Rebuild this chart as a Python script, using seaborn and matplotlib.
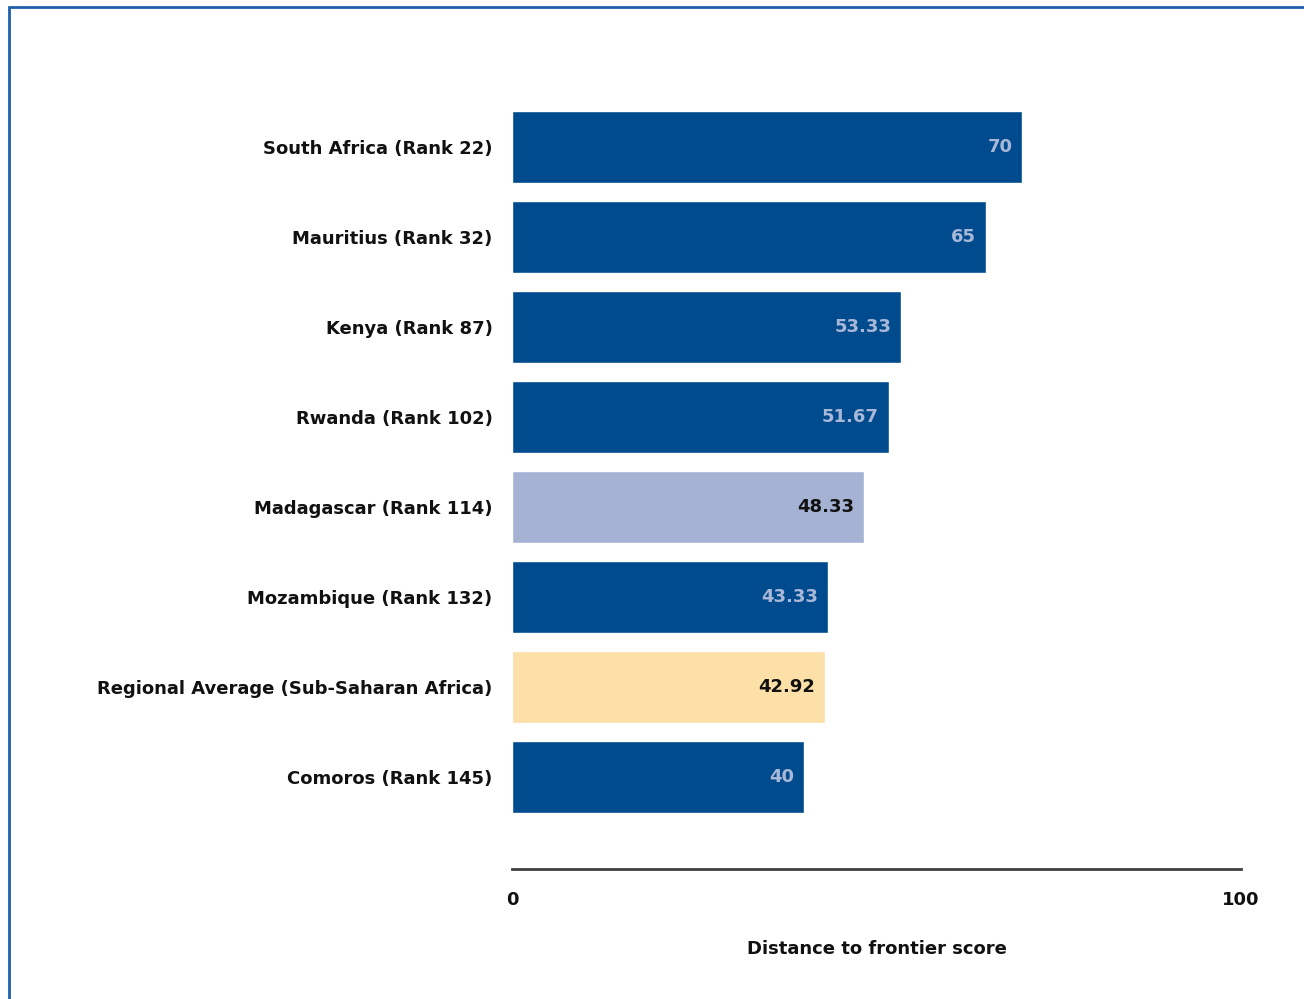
import matplotlib.pyplot as plt
import matplotlib.patches as mpatches
import seaborn as sns
import pandas as pd

# datos
paises = ['South Africa (Rank 22)', 'Mauritius (Rank 32)', 'Kenya (Rank 87)',
          'Rwanda (Rank 102)', 'Madagascar (Rank 114)', 'Mozambique (Rank 132)',
          'Regional Average (Sub-Saharan Africa)', 'Comoros (Rank 145)']
puntaje = [70, 65, 53.33, 51.67, 48.33, 43.33, 42.92, 40]
etiquetas = ['70', '65', '53.33', '51.67', '48.33', '43.33', '42.92', '40']
colores = ['#004B8D', '#004B8D', '#004B8D', '#004B8D', '#A5B2D3', '#004B8D', '#FDDFA8', '#004B8D']
color_texto = ['#A9B8D8', '#A9B8D8', '#A9B8D8', '#A9B8D8', '#111111', '#A9B8D8', '#111111', '#A9B8D8']

datos = pd.DataFrame({'pais': paises, 'score': puntaje})

sns.set_style('white')
plt.rcParams['font.family'] = ['DejaVu Sans']

fig = plt.figure(figsize=(13.04, 9.99), dpi=100)
ax = fig.add_axes([512/1304, 1-869/999, (1241-512)/1304, (869-60)/999])

sns.barplot(data=datos, x='score', y='pais', hue='pais', palette=colores,
            legend=False, width=0.8, ax=ax, saturation=1, orient='h')

for cont, lab, col in zip(ax.containers, etiquetas, color_texto):
    txts = ax.bar_label(cont, labels=[lab], padding=-7, fontsize=13,
                        fontweight='bold', color=col)
    for t in txts:
        t.set_ha('right')

ax.set_xlim(0, 100)
ax.set_ylim(7.5 + 0.52, -0.97)
ax.set_xticks([0, 100])
ax.set_xticklabels(['0', '100'], fontsize=13, fontweight='bold', color='#111111')
ax.tick_params(axis='x', length=0, pad=16)
ax.tick_params(axis='y', length=0, pad=14, labelsize=13, labelcolor='#111111')
for t in ax.get_yticklabels():
    t.set_fontweight('bold')
ax.set_ylabel('')
ax.set_xlabel('Distance to frontier score', fontsize=13, fontweight='bold',
              labelpad=22, color='#111111')

for s in ['top', 'right', 'left']:
    ax.spines[s].set_visible(False)
ax.spines['bottom'].set_color('#404040')
ax.spines['bottom'].set_linewidth(2)

# marco azul
marco = mpatches.Rectangle((9/1304, -0.05), 1.1, (1 - 7/999) + 0.05,
                           transform=fig.transFigure, fill=False,
                           edgecolor='#1F5FAD', linewidth=2, clip_on=False)
fig.patches.append(marco)

plt.savefig('out.png', dpi=100)
